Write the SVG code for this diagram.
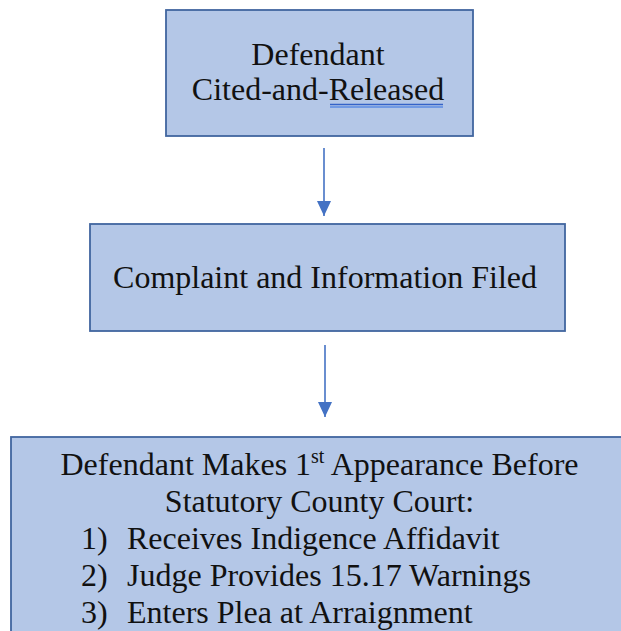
<svg xmlns="http://www.w3.org/2000/svg" width="621" height="631" viewBox="0 0 621 631">
<style>
.box{fill:#B4C7E7;stroke:#41659F;stroke-width:1.8}
.t{font-family:"Liberation Serif","Times New Roman",serif;font-size:32px;fill:#111}
.c{text-anchor:middle}
.conn{stroke:#4472C4;stroke-width:1.6;fill:none}
</style>
<defs>
<marker id="ah" viewBox="0 0 15 16" refX="15" refY="8" markerWidth="15" markerHeight="16" markerUnits="userSpaceOnUse" orient="auto">
<path d="M0,1 L15,8 L0,15 Z" fill="#4472C4"/>
</marker>
</defs>
<rect width="621" height="631" fill="#fff"/>
<g id="connectors">
<line class="conn" x1="324" y1="148" x2="324" y2="216" marker-end="url(#ah)"/>
<line class="conn" x1="325" y1="345" x2="325" y2="417" marker-end="url(#ah)"/>
</g>
<g id="node1">
<rect class="box" x="166" y="10" width="307" height="126"/>
<text class="t c" x="318" y="65">Defendant</text>
<text class="t c" x="318" y="100">Cited-and-Released</text>
<line x1="330" y1="104.5" x2="443" y2="104.5" stroke="#3563C8" stroke-width="1.6"/>
<line x1="330" y1="107" x2="443" y2="107" stroke="#5B8BE3" stroke-width="1.4"/>
</g>
<g id="node2">
<rect class="box" x="90" y="224" width="475" height="107"/>
<text class="t c" x="325" y="288">Complaint and Information Filed</text>
</g>
<g id="node3">
<rect class="box" x="11" y="437" width="620" height="210"/>
<text class="t c" x="319.5" y="475">Defendant Makes 1<tspan font-size="20" dy="-12">st</tspan><tspan dy="12"> Appearance Before</tspan></text>
<text class="t c" x="319.5" y="512">Statutory County Court:</text>
<text class="t" x="81" y="549">1)</text>
<text class="t" x="127" y="549">Receives Indigence Affidavit</text>
<text class="t" x="81" y="586">2)</text>
<text class="t" x="127" y="586">Judge Provides 15.17 Warnings</text>
<text class="t" x="81" y="623">3)</text>
<text class="t" x="127" y="623">Enters Plea at Arraignment</text>
</g>
</svg>
